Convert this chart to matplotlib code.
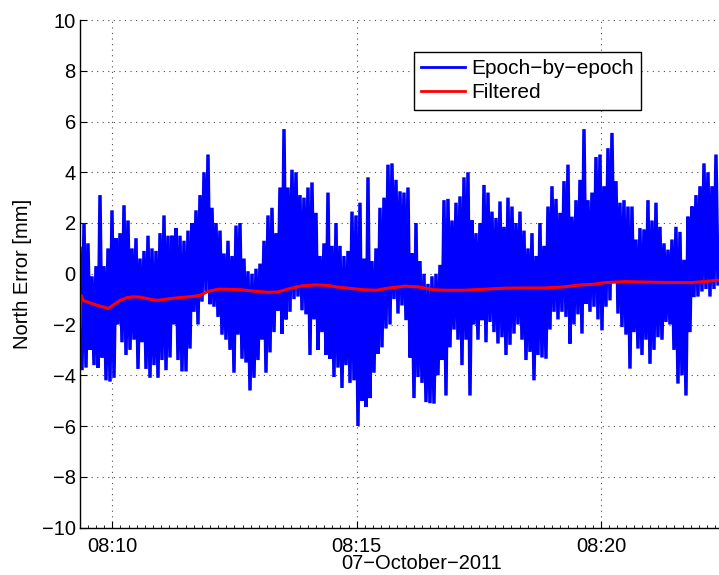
import numpy as np
import pandas as pd
import matplotlib
matplotlib.use("Agg")
import matplotlib.pyplot as plt
import matplotlib.dates as mdates

plt.rcParams['font.family'] = ['Liberation Sans', 'DejaVu Sans']

# epoch-by-epoch north error, local peaks and troughs [mm]
upper_mm = [1.0, 2.0, 1.2, -0.1, 0.3, 3.1, 0.3, 1.0, 2.5, 1.4,
            1.6, 2.7, 2.1, 1.0, 1.4, 0.6, 0.9, 1.5, 1.0, 0.9,
            1.6, 2.3, 1.5, 1.5, 1.8, 1.5, 1.3, 1.7, 2.0, 2.5,
            3.1, 4.0, 4.7, 2.6, 2.0, 1.7, 0.8, 1.3, 0.7, 1.9,
            2.0, 0.6, 0.1, 0.0, 0.2, 0.4, 1.3, 2.3, 2.6, 1.6,
            3.4, 5.7, 3.4, 4.1, 4.0, 3.1, 3.0, 3.4, 3.6, 2.4,
            0.7, 1.2, 3.2, 1.1, 2.0, 1.1, 0.7, 0.9, 2.45, 2.3,
            2.8, 0.6, 3.8, 0.5, 1.0, 2.6, 3.0, 4.3, 4.35, 3.7,
            3.25, 3.2, 3.4, 0.8, 2.0, 0.5, 0.0, -0.4, -0.1, 0.0,
            0.35, 2.9, 2.95, 2.1, 2.8, 3.05, 3.8, 4.0, 2.1, 1.6,
            2.0, 3.5, 3.2, 2.45, 2.2, 2.85, 1.85, 3.0, 2.65, 2.0,
            2.45, 1.7, 1.0, 1.6, 0.7, 2.0, 1.1, 2.65, 3.45, 2.95,
            2.4, 3.65, 4.3, 2.25, 2.9, 3.7, 5.7, 2.9, 3.2, 4.6,
            4.7, 3.45, 4.95, 5.55, 3.65, 2.8, 2.9, 2.65, 2.65, 1.35,
            1.8, 1.75, 2.9, 2.1, 2.8, 1.85, 1.2, 0.95, 1.35, 1.85,
            1.65, 0.55, 2.25, 2.65, 3.1, 3.45, 4.35, 4.0, 3.45, 4.7]

lower_mm = [-3.8, -3.7, -3.0, -3.6, -3.7, -3.3, -4.2, -4.25, -4.1, -2.0,
            -2.7, -3.2, -3.0, -2.6, -3.75, -2.7, -3.75, -4.1, -3.6, -4.1,
            -3.4, -3.8, -3.3, -2.0, -3.4, -3.85, -3.85, -2.95, -1.5, -2.0,
            -1.1, -0.7, -1.2, -1.3, -1.7, -2.4, -2.6, -3.0, -3.9, -2.4,
            -3.35, -3.5, -4.6, -4.1, -3.4, -2.6, -3.9, -3.1, -2.3, -1.45,
            -2.36, -1.8, -1.5, -1.0, -0.9, -1.44, -1.6, -3.2, -1.8, -3.0,
            -2.3, -3.2, -3.35, -4.07, -3.7, -4.5, -3.6, -4.3, -4.2, -6.0,
            -5.0, -5.25, -4.9, -3.9, -3.15, -2.9, -2.16, -2.0, -1.0, -1.57,
            -1.25, -1.83, -3.3, -4.9, -4.07, -4.3, -5.06, -5.1, -5.12, -4.0,
            -3.4, -4.8, -2.9, -2.2, -2.6, -3.6, -2.6, -4.8, -2.0, -2.6,
            -1.83, -2.7, -1.9, -2.3, -2.75, -2.5, -3.2, -2.8, -2.36, -2.0,
            -2.6, -3.4, -3.08, -4.2, -3.2, -3.3, -3.35, -2.2, -1.5, -1.8,
            -1.5, -1.7, -2.75, -2.0, -1.6, -2.36, -1.18, -1.5, -1.3, -1.8,
            -2.23, -1.3, -1.05, -0.3, -1.57, -2.1, -2.4, -3.74, -2.3, -2.95,
            -3.2, -2.6, -3.55, -3.0, -2.5, -2.6, -1.9, -2.0, -3.0, -4.33,
            -4.0, -4.8, -2.3, -0.92, -0.9, -0.7, -0.6, -0.9, -0.6, -0.4]

# filtered solution: seconds after 08:10:00 and value [mm]
filt_sec = [-39.6, -38.4, -36, -27, -19, -11, -5, 1, 9.5, 18, 25, 34, 43,
            55, 62, 71, 83, 95, 108, 117, 130, 142, 158, 175, 191, 203,
            216, 232, 249, 265, 275, 290, 308, 324, 340, 360, 376, 394,
            410, 432, 456, 481, 505, 530, 554, 575, 589, 605, 629, 671,
            711, 743.5]
filt_mm = [-2.1, -0.85, -1.05, -1.15, -1.24, -1.31, -1.37, -1.24, -1.05,
           -0.94, -0.91, -0.92, -0.98, -1.05, -1.02, -0.98, -0.94, -0.91,
           -0.85, -0.7, -0.61, -0.61, -0.63, -0.69, -0.73, -0.72, -0.6,
           -0.48, -0.44, -0.46, -0.52, -0.57, -0.63, -0.65, -0.56, -0.49,
           -0.52, -0.63, -0.65, -0.65, -0.61, -0.57, -0.56, -0.56, -0.52,
           -0.44, -0.42, -0.35, -0.31, -0.34, -0.35, -0.26]

day = pd.Timestamp("2011-10-07 08:10:00")
t_first = day + pd.Timedelta(seconds=-39.6)
t_last = day + pd.Timedelta(seconds=743.5)

#peaks and troughs alternate epoch by epoch
north = np.empty(2 * len(upper_mm))
north[0::2] = upper_mm
north[1::2] = lower_mm
t_epoch = pd.date_range(t_first, t_last, periods=len(north))
t_filt = day + pd.to_timedelta(filt_sec, unit="s")

fig = plt.figure(figsize=(7.19, 5.75), dpi=100)
ax = fig.add_axes([80 / 719, 47.5 / 575, 684 / 719, 507.5 / 575])

ax.plot(t_epoch, north, color="#0000ff", lw=2.5, solid_joinstyle="bevel",
        label="Epoch\u2212by\u2212epoch")
ax.plot(t_filt, filt_mm, color="#ff0000", lw=2.2, label="Filtered")

ax.set_ylim(-10, 10)
ax.set_yticks(range(-10, 11, 2))
ax.set_xlim(t_first, day + pd.Timedelta(seconds=800))
ax.xaxis.set_major_locator(mdates.MinuteLocator(byminute=range(0, 60, 5)))
ax.xaxis.set_major_formatter(mdates.DateFormatter("%H:%M"))
ax.xaxis.set_minor_locator(mdates.SecondLocator(bysecond=range(0, 60, 10)))

ax.tick_params(which="major", direction="in", length=5, width=0.8,
               labelsize=14.5, pad=3)
ax.tick_params(axis="x", which="major", pad=7)
ax.tick_params(which="minor", direction="in", length=2.5, width=0.6)
ax.grid(True, which="major", linestyle=(0, (1, 4)), color="0.3", lw=0.8)

for s in ["top", "right"]:
    ax.spines[s].set_visible(False)
for s in ["left", "bottom"]:
    ax.spines[s].set_linewidth(1.0)

ax.set_ylabel("North Error [mm]", fontsize=14.5, labelpad=7)
ax.set_xlabel("07\u2212October\u22122011", fontsize=14.5, labelpad=-1.5)

leg = ax.legend(loc="upper left", bbox_to_anchor=(0.4883, 0.937),
                borderaxespad=0, fancybox=False, framealpha=1,
                edgecolor="black", fontsize=15, handlelength=2.1,
                handletextpad=0.3, borderpad=0.35, labelspacing=0.25)
leg.get_frame().set_linewidth(1.0)
for h in leg.get_lines():
    h.set_linewidth(2.0)

fig.savefig("out.png", dpi=100)
